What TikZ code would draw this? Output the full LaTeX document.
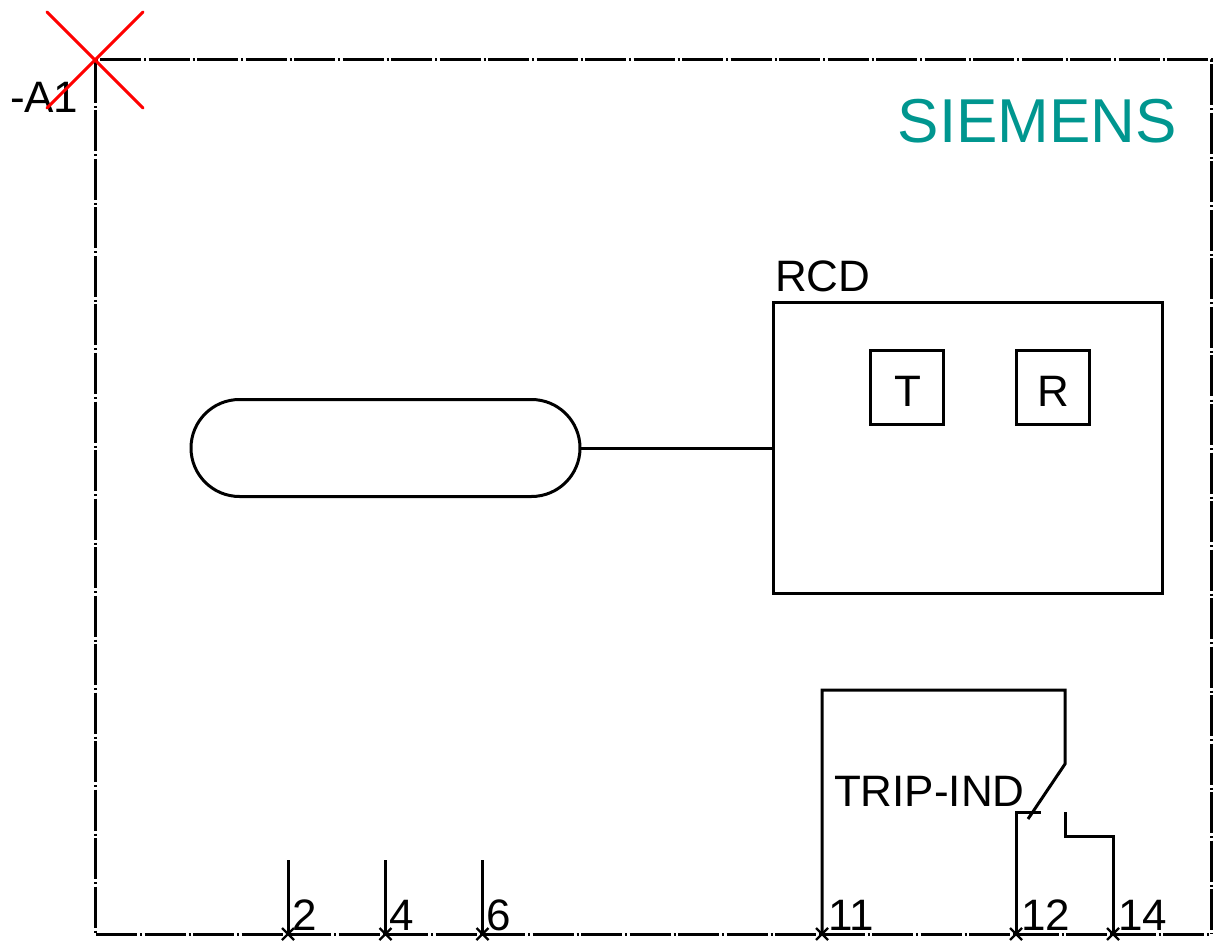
\documentclass[tikz,border=0pt]{standalone}
\usepackage{fontspec}
\setmainfont{Liberation Sans}
\usetikzlibrary{shapes.misc,positioning}
\tikzset{
  x=0.75pt,y=-0.75pt,
  wire/.style={draw=black,line width=2.25pt,line join=miter},
  frameline/.style={draw=black,line width=2.25pt,dash pattern=on 30.75pt off 2.25pt on 1.5pt off 1.875pt},
  boxnode/.style={draw=black,line width=2.25pt,inner sep=0pt,outer sep=0pt},
  lbl/.style={inner sep=0pt,outer sep=0pt,font=\fontsize{33}{33}\selectfont,text=black},
  xmark/.style={draw=black,line width=1.8pt},
  redx/.style={draw=red,line width=2.3pt,line cap=round},
}
\newcommand{\termx}[1]{\draw[xmark] ([shift={(-6,-6)}]#1) -- ([shift={(6,6)}]#1) ([shift={(-6,6)}]#1) -- ([shift={(6,-6)}]#1);}
\begin{document}
\begin{tikzpicture}
\useasboundingbox (0,0) rectangle (1214,941);
% frame
\coordinate (tl) at (95,60);
\coordinate (tr) at (1211,60);
\coordinate (bl) at (95,934);
\coordinate (br) at (1211,934);
\draw[frameline,dash phase=32.625pt] (tl) -- (tr) -- (br);
\draw[frameline,dash phase=34.875pt] (tl) -- (bl) -- (br);
% labels
\node[lbl,anchor=base west] (a1) at (10,113) {-A1};
\node[anchor=base east,inner sep=0pt,outer sep=0pt,font=\fontsize{46.5}{46.5}\selectfont,text={rgb,255:red,0;green,150;blue,143}] (siemens) at (1177,143) {SIEMENS};
\node[lbl,anchor=base west] (rcdl) at (775,292) {RCD};
% RCD
\node[boxnode,minimum width=389*0.75pt,minimum height=291*0.75pt,anchor=north west] (rcd) at (773.5,302.5) {};
\node[boxnode,minimum size=73*0.75pt] (t) at (907,387.5) {};
\node[boxnode,minimum size=73*0.75pt] (r) at (1053,387.5) {};
\node[lbl,anchor=base] (tlabel) at (908,406) {T};
\node[lbl,anchor=base] (rlabel) at (1053,406) {R};
% pill
\node[boxnode,rounded rectangle,minimum width=389*0.75pt,minimum height=97*0.75pt] (pill) at (385.5,448) {};
\draw[wire] (pill.east) -- (pill.east -| rcd.west);
% main terminals
\foreach \n/\x/\t in {t2/288/2,t4/385.5/4,t6/482.5/6}{
  \coordinate (\n) at (\x,934);
  \coordinate (\n top) at (\x,860);
  \draw[wire] (\n top) -- (\n);
  \termx{\n}
  \node[lbl,anchor=base west] (\n l) at (\x+4,930) {\t};
}
% aux contact
\coordinate (t11) at (822,934);
\coordinate (t12) at (1016,934);
\coordinate (t14) at (1113,934);
\coordinate (c1) at (822,690);
\coordinate (c2) at (1065,690);
\coordinate (c3) at (1065,764);
\coordinate (c4) at (1028,819);
\coordinate (d1) at (1016,812);
\coordinate (d2) at (1041,812);
\coordinate (e1) at (1065,812);
\coordinate (e2) at (1065,836.5);
\coordinate (e3) at (1113,836.5);
\draw[wire] (t11) -- (c1) -- (c2) -- (c3) -- (c4);
\draw[wire] (t12) -- (d1) -- (d2);
\draw[wire] (e1) -- (e2) -- (e3) -- (t14);
\termx{t11}\termx{t12}\termx{t14}
\node[lbl,anchor=base west] (l11) at (828,930) {11};
\node[lbl,anchor=base west] (l12) at (1021,930) {12};
\node[lbl,anchor=base west] (l14) at (1118,930) {14};
\node[lbl,anchor=base west] (trip) at (834,806) {TRIP-IND};
% red cross
\coordinate (x1) at (47,12);
\coordinate (x2) at (143,108);
\coordinate (x3) at (143,12);
\coordinate (x4) at (47,108);
\draw[redx] (x1) -- (x2);
\draw[redx] (x3) -- (x4);
\end{tikzpicture}
\end{document}
